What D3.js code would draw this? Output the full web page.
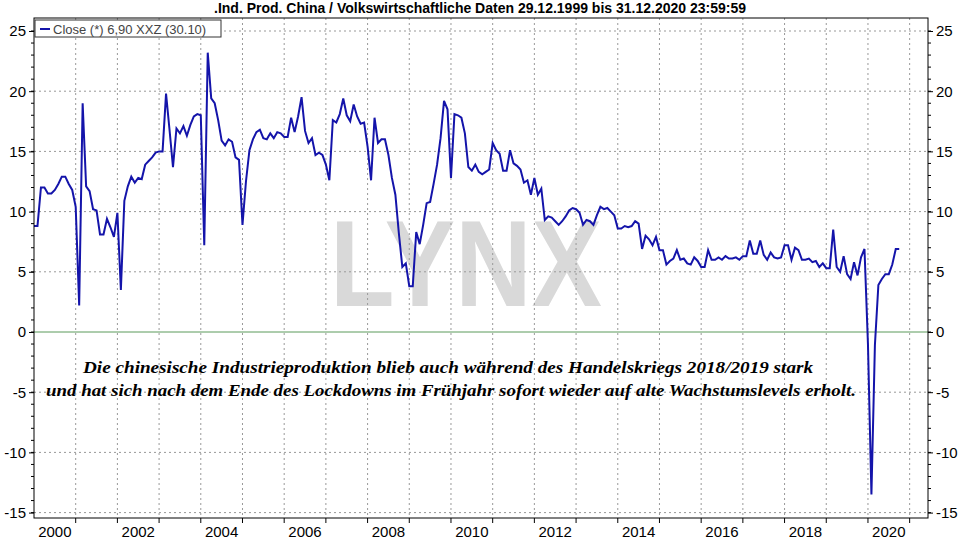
<!DOCTYPE html>
<html>
<head>
<meta charset="utf-8">
<script src="https://cdn.jsdelivr.net/npm/d3@7"></script>
<style>
  body { margin: 0; background: #fff; }
  svg { display: block; font-family: "Liberation Sans", Arial, sans-serif; }
</style>
</head>
<body>
<svg id="chart" width="960" height="540"></svg>
<script>
// monthly values, Jan 2000 .. Oct 2020
const startYear = 2000;
const values = [
  // 2000
  8.8, 8.8, 12.0, 12.0, 11.5, 11.5, 11.8, 12.3, 12.9, 12.9, 12.3, 11.8,
  // 2001
  10.4, 2.2, 19.0, 12.1, 11.7, 10.2, 10.1, 8.1, 8.1, 9.4, 8.7, 7.9,
  // 2002
  9.9, 3.5, 10.9, 12.1, 12.9, 12.4, 12.8, 12.7, 13.9, 14.2, 14.5, 14.9,
  // 2003
  15.0, 15.0, 19.8, 16.8, 13.7, 16.9, 16.5, 17.1, 16.3, 17.2, 17.9, 18.1,
  // 2004
  18.0, 7.2, 23.2, 19.4, 19.0, 17.6, 15.9, 15.5, 16.0, 15.8, 14.5, 14.3,
  // 2005
  8.9, 12.5, 15.1, 16.0, 16.6, 16.8, 16.1, 16.0, 16.5, 16.1, 16.6, 16.5,
  // 2006
  16.2, 16.2, 17.8, 16.6, 17.9, 19.5, 16.7, 15.7, 16.1, 14.7, 14.9, 14.7,
  // 2007
  13.9, 12.6, 17.6, 17.4, 18.1, 19.4, 18.0, 17.5, 18.9, 17.9, 17.3, 17.4,
  // 2008
  15.4, 12.6, 17.8, 15.7, 16.0, 16.0, 14.7, 12.8, 11.4, 8.2, 5.4, 5.7,
  // 2009
  3.8, 3.8, 8.3, 7.3, 8.9, 10.7, 10.8, 12.3, 13.9, 16.1, 19.2, 18.5,
  // 2010
  12.8, 18.1, 18.0, 17.8, 16.5, 13.7, 13.4, 13.9, 13.3, 13.1, 13.3, 13.5,
  // 2011
  15.7, 15.1, 14.8, 13.4, 13.4, 15.1, 14.0, 13.8, 13.5, 12.4, 12.6, 11.4,
  // 2012
  12.8, 11.4, 11.9, 9.3, 9.6, 9.5, 9.2, 8.9, 9.2, 9.6, 10.1, 10.3,
  // 2013
  10.2, 9.9, 8.9, 9.3, 9.2, 8.9, 9.7, 10.4, 10.2, 10.3, 10.0, 9.7,
  // 2014
  8.6, 8.6, 8.8, 8.7, 8.8, 9.2, 9.0, 6.9, 8.0, 7.7, 7.2, 7.9,
  // 2015
  6.8, 6.8, 5.6, 5.9, 6.1, 6.8, 6.0, 6.1, 5.7, 5.6, 6.2, 5.9,
  // 2016
  5.4, 5.4, 6.8, 6.0, 6.0, 6.2, 6.0, 6.3, 6.1, 6.1, 6.2, 6.0,
  // 2017
  6.3, 6.3, 7.6, 6.5, 6.5, 7.6, 6.4, 6.0, 6.6, 6.2, 6.1, 6.2,
  // 2018
  7.2, 7.2, 6.0, 7.0, 6.8, 6.0, 6.0, 6.1, 5.8, 5.9, 5.4, 5.7,
  // 2019
  5.3, 5.3, 8.5, 5.4, 5.0, 6.3, 4.8, 4.4, 5.8, 4.7, 6.2, 6.9,
  // 2020
  -1.0, -13.5, -1.1, 3.9, 4.4, 4.8, 4.8, 5.6, 6.9, 6.9
];
const yTicks = [25, 20, 15, 10, 5, 0, -5, -10, -15];
const labelYears = [2000, 2002, 2004, 2006, 2008, 2010, 2012, 2014, 2016, 2018, 2020];
const title = ".Ind. Prod. China / Volkswirtschaftliche Daten 29.12.1999 bis 31.12.2020 23:59:59";
const legendText = "Close (*) 6,90 XXZ (30.10)";
const note = [
  "Die chinesische Industrieproduktion blieb auch während des Handelskriegs 2018/2019 stark",
  "und hat sich nach dem Ende des Lockdowns im Frühjahr sofort wieder auf alte Wachstumslevels erholt."
];

const svg = d3.select("#chart");
const L = 34, R = 928, T = 18, B = 518;

const x = d3.scaleLinear().domain([2000, 2021.44]).range([L, R]);
const y = d3.scaleLinear().domain([-15, 25]).range([512.6, 31]);

const data = values.map((v, i) => ({ t: startYear + i / 12, v }));
const fmt = d => String(d); // plain hyphen minus like the original

// title
svg.append("text").attr("x", 480).attr("y", 13).attr("text-anchor", "middle")
  .attr("font-size", 14).attr("font-weight", "bold").text(title);

// watermark
svg.append("text").attr("x", 330).attr("y", 306)
  .attr("font-size", 122).attr("font-weight", "bold").attr("fill", "#d9d9d9")
  .attr("textLength", 272).attr("lengthAdjust", "spacingAndGlyphs").text("LYNX");

// grid
const years = d3.range(2001, 2022);
svg.append("g").selectAll("line").data(years).join("line")
  .attr("x1", d => x(d)).attr("x2", d => x(d)).attr("y1", T).attr("y2", B)
  .attr("stroke", "#999").attr("stroke-dasharray", "2,3");
svg.append("g").selectAll("line").data(yTicks.filter(d => d !== 0)).join("line")
  .attr("x1", L).attr("x2", R).attr("y1", d => y(d)).attr("y2", d => y(d))
  .attr("stroke", "#999").attr("stroke-dasharray", "2,3");
svg.append("line").attr("x1", L).attr("x2", R).attr("y1", y(0)).attr("y2", y(0))
  .attr("stroke", "#5a9a5a").attr("stroke-width", 1);

// annotation
const noteX = [[83, 730], [46, 810]];
svg.append("g").selectAll("text").data(note).join("text")
  .attr("x", (d, i) => noteX[i][0]).attr("y", (d, i) => 373 + i * 23)
  .attr("textLength", (d, i) => noteX[i][1]).attr("lengthAdjust", "spacingAndGlyphs")
  .attr("font-family", "'Liberation Serif', 'Times New Roman', serif")
  .attr("font-style", "italic").attr("font-weight", "bold").attr("font-size", 16)
  .text(d => d);

// line
svg.append("path").datum(data)
  .attr("fill", "none").attr("stroke", "#1414aa").attr("stroke-width", 2)
  .attr("d", d3.line().x(d => x(d.t)).y(d => y(d.v)));

// frame
svg.append("rect").attr("x", L).attr("y", T).attr("width", R - L).attr("height", B - T)
  .attr("fill", "none").attr("stroke", "#000");

// axes
const yLeft = d3.axisLeft(y).tickValues(yTicks).tickSize(5).tickFormat(fmt);
const yRight = d3.axisRight(y).tickValues(yTicks).tickSize(5).tickFormat(fmt);
const minor = d3.range(-15, 26);
const gl = svg.append("g").attr("transform", `translate(${L},0)`).call(yLeft);
const gr = svg.append("g").attr("transform", `translate(${R},0)`).call(yRight);
[gl, gr].forEach((g, k) => {
  g.select(".domain").remove();
  g.selectAll("text").attr("font-size", 15).attr("fill", "#000");
  g.selectAll("line").attr("stroke", "#000");
  g.selectAll(".minor").data(minor).join("line").attr("class", "minor")
    .attr("x1", 0).attr("x2", k === 0 ? -3 : 3)
    .attr("y1", d => y(d)).attr("y2", d => y(d)).attr("stroke", "#000");
});
gl.selectAll(".tick text").attr("x", -8);
gr.selectAll(".tick text").attr("x", 8);

const gx = svg.append("g").attr("transform", `translate(0,${B})`);
gx.selectAll("line").data(years).join("line")
  .attr("x1", d => x(d)).attr("x2", d => x(d)).attr("y1", 0).attr("y2", 5)
  .attr("stroke", "#000");
gx.selectAll("text").data(labelYears).join("text")
  .attr("x", d => x(d + 0.5)).attr("y", 19).attr("text-anchor", "middle")
  .attr("font-size", 15).text(d => d);

// legend
const lg = svg.append("g");
lg.append("rect").attr("x", 35).attr("y", 20).attr("width", 186).attr("height", 17)
  .attr("fill", "#fff").attr("stroke", "#333");
lg.append("line").attr("x1", 40).attr("x2", 50).attr("y1", 29).attr("y2", 29)
  .attr("stroke", "#1414aa").attr("stroke-width", 2);
lg.append("text").attr("x", 53).attr("y", 34).attr("font-size", 13).attr("fill", "#444")
  .text(legendText);
</script>
</body>
</html>
